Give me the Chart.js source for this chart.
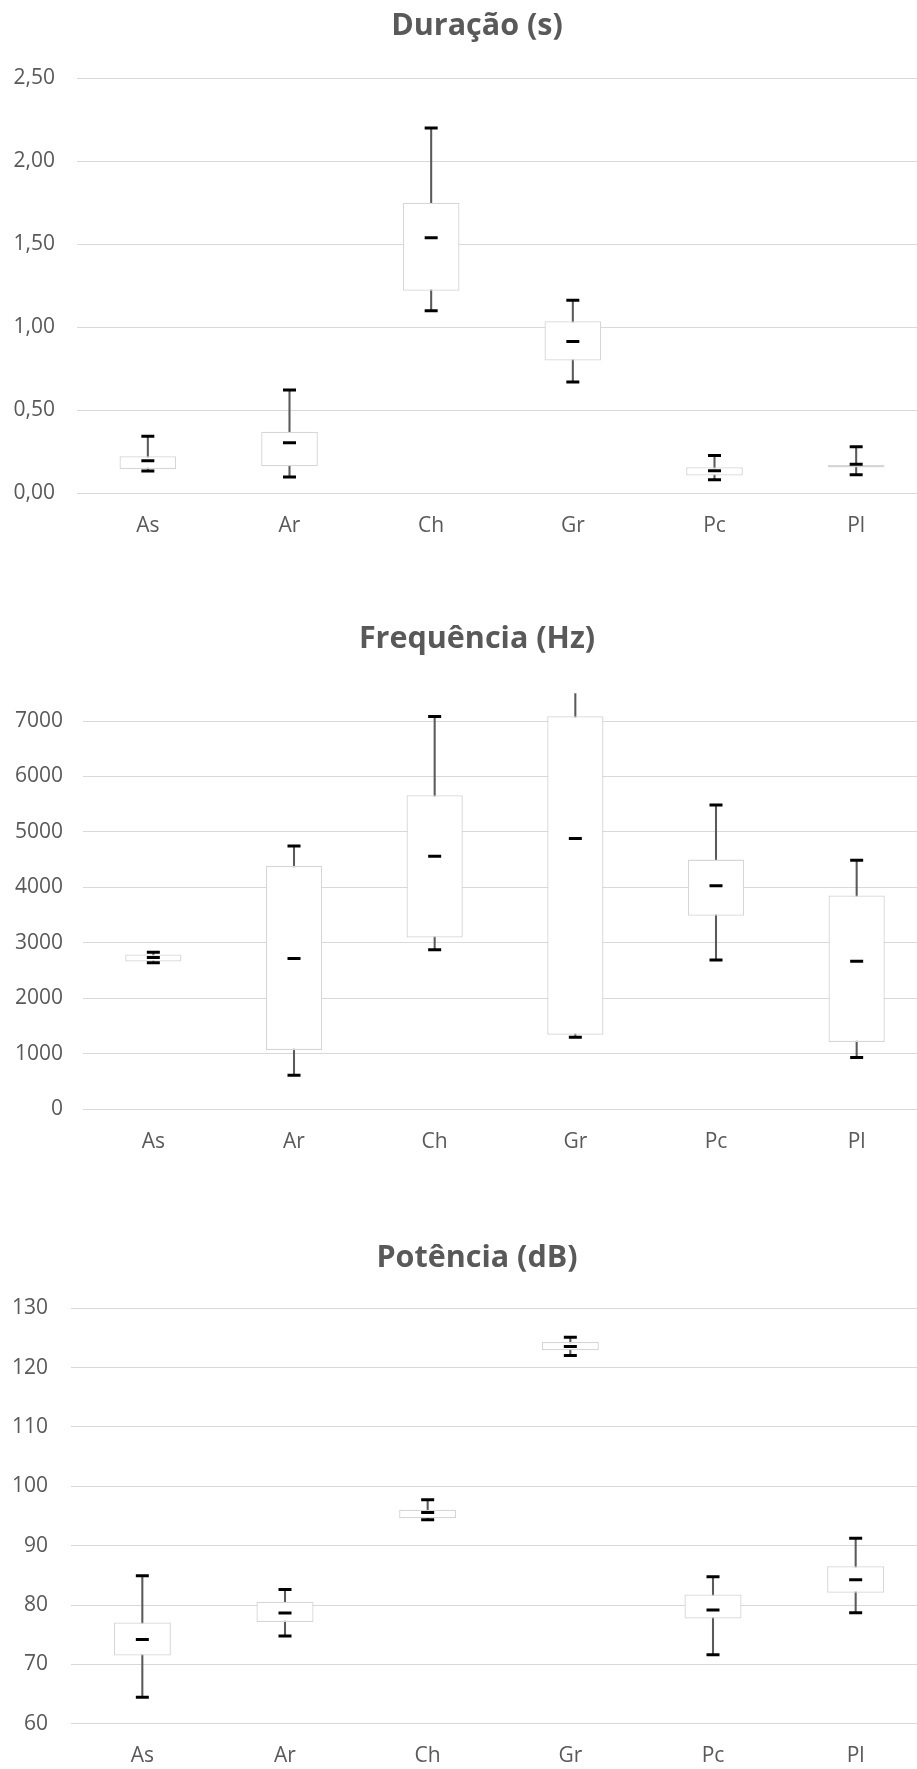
<!DOCTYPE html>
<html>
<head>
<meta charset="utf-8">
<script src="https://cdn.jsdelivr.net/npm/chart.js@4/dist/chart.umd.min.js"></script>
<style>
  html, body { margin: 0; padding: 0; background: #fff; }
  body { width: 917px; height: 1769px; overflow: hidden; position: relative; }
  canvas { position: absolute; left: 0; }
</style>
</head>
<body>
<canvas id="dur" width="954" height="540" style="top:0px"></canvas>
<canvas id="freq" width="954" height="580" style="top:580px"></canvas>
<canvas id="pot" width="954" height="589" style="top:1180px"></canvas>
<script>
const labels = ['As', 'Ar', 'Ch', 'Gr', 'Pc', 'Pl'];

// Duração (s)
const durMin = [0.134, 0.098, 1.10, 0.67, 0.082, 0.111];
const durQ1  = [0.146, 0.163, 1.22, 0.80, 0.107, 0.155];
const durMed = [0.196, 0.305, 1.54, 0.915, 0.136, 0.175];
const durQ3  = [0.223, 0.371, 1.75, 1.036, 0.157, 0.171];
const durMax = [0.343, 0.622, 2.20, 1.163, 0.227, 0.281];
const durTickValues = [0, 0.5, 1, 1.5, 2, 2.5];
const durTicks = ['0,00', '0,50', '1,00', '1,50', '2,00', '2,50'];

// Frequência (Hz)
const freqMin = [2644, 613, 2877, 1299, 2691, 932];
const freqQ1  = [2664, 1066, 3097, 1345, 3490, 1212];
const freqMed = [2737, 2717, 4562, 4882, 4029, 2671];
const freqQ3  = [2790, 4389, 5661, 7086, 4502, 3856];
const freqMax = [2830, 4749, 7080, 7700, 5488, 4489];
const freqTickValues = [0, 1000, 2000, 3000, 4000, 5000, 6000, 7000];
const freqTicks = ['0', '1000', '2000', '3000', '4000', '5000', '6000', '7000'];

// Potência (dB)
const potMin = [64.46, 74.79, 94.36, 122.05, 71.62, 78.71];
const potQ1  = [71.49, 77.12, 94.60, 122.91, 77.73, 82.07];
const potMed = [74.18, 78.65, 95.58, 123.58, 79.14, 84.27];
const potQ3  = [77.06, 80.54, 96.07, 124.31, 81.76, 86.53];
const potMax = [84.94, 82.62, 97.72, 125.11, 84.76, 91.24];
const potTickValues = [60, 70, 80, 90, 100, 110, 120, 130];
const potTicks = ['60', '70', '80', '90', '100', '110', '120', '130'];

const grey = '#595959';

function marks(data) {
  return {
    type: 'line', data: data, showLine: false, order: 0, clip: 0,
    pointStyle: 'line', pointRadius: 6.5, pointHoverRadius: 6.5,
    pointBorderWidth: 3, pointBorderColor: '#000', pointBackgroundColor: '#000'
  };
}

function boxChart(id, o) {
  const pairs = (a, b) => a.map((v, i) => [v, b[i]]);
  new Chart(document.getElementById(id), {
    data: {
      labels: labels,
      datasets: [
        marks(o.max),
        marks(o.min),
        marks(o.med),
        {
          type: 'bar', data: pairs(o.q1, o.q3), order: 1, grouped: false, clip: 0,
          backgroundColor: '#fff', borderColor: '#d6d6d6', borderWidth: 1.3,
          borderSkipped: false, barPercentage: 0.4, categoryPercentage: 1
        },
        {
          type: 'bar', data: pairs(o.min, o.max), order: 2, grouped: false, clip: 0,
          backgroundColor: '#5a5a5a', barThickness: 1.4
        }
      ]
    },
    options: {
      responsive: false,
      animation: false,
      layout: { padding: 0 },
      plugins: {
        legend: { display: false },
        tooltip: { enabled: false },
        title: {
          display: true, text: o.title, color: grey,
          font: { family: 'Open Sans', size: 30.5, weight: 'bold', lineHeight: 1.2 },
          padding: { top: o.tTop, bottom: o.tBottom }
        }
      },
      scales: {
        x: {
          grid: { display: false, drawTicks: false },
          border: { display: false },
          ticks: { color: grey, padding: 20, font: { family: 'Open Sans', size: 21 } },
          afterFit: s => { s.height = o.xH; }
        },
        y: {
          min: o.yMin, max: o.yMax,
          grid: { color: '#d9d9d9', lineWidth: 1, drawTicks: false },
          border: { display: false },
          ticks: {
            color: grey, padding: o.tickPad,
            font: { family: 'Open Sans', size: 21 },
            callback: (v, i) => o.ticks[i]
          },
          afterBuildTicks: s => { s.ticks = o.tickValues.map(v => ({ value: v })); },
          afterFit: s => { s.width = o.yW; }
        },
        // empty right-hand strip: the original chart runs past the crop edge
        yRight: {
          type: 'linear', position: 'right',
          grid: { display: false, drawTicks: false },
          border: { display: false },
          ticks: { display: false },
          afterFit: s => { s.width = 27; }
        }
      }
    }
  });
}

boxChart('dur', {
  title: 'Duração (s)', min: durMin, q1: durQ1, med: durMed, q3: durQ3, max: durMax,
  ticks: durTicks, tickValues: durTickValues, yMin: 0, yMax: 2.5,
  tTop: 8.5, tBottom: 33.2, xH: 46.7, yW: 77, tickPad: 22
});
boxChart('freq', {
  title: 'Frequência (Hz)', min: freqMin, q1: freqQ1, med: freqMed, q3: freqQ3, max: freqMax,
  ticks: freqTicks, tickValues: freqTickValues, yMin: 0, yMax: 7500,
  tTop: 41.4, tBottom: 35.3, xH: 50.7, yW: 83, tickPad: 20
});
boxChart('pot', {
  title: 'Potência (dB)', min: potMin, q1: potQ1, med: potMed, q3: potQ3, max: potMax,
  ticks: potTicks, tickValues: potTickValues, yMin: 60, yMax: 130,
  tTop: 60.5, tBottom: 31.2, xH: 45.3, yW: 71, tickPad: 23
});
</script>
</body>
</html>
